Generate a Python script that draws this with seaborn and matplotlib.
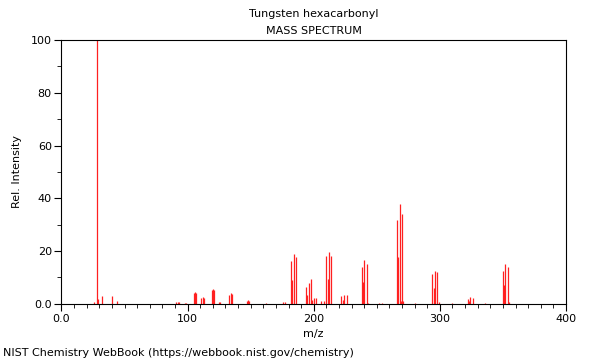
import matplotlib
matplotlib.use("Agg")
import matplotlib.pyplot as plt
from matplotlib.ticker import MultipleLocator, FixedLocator, FixedFormatter
import seaborn as sns
import pandas as pd

title_main = "Tungsten hexacarbonyl"
title_sub = "MASS SPECTRUM"
x_label = "m/z"
y_label = "Rel. Intensity"
footer = "NIST Chemistry WebBook (https://webbook.nist.gov/chemistry)"

mz = [26, 28, 29, 32, 40, 44,
      91, 92, 93, 98, 99,
      105, 106, 107, 111, 112, 113,
      119, 120, 121, 125, 126,
      133, 134, 135, 147, 148, 149,
      162, 176, 177,
      182, 183, 184, 186,
      194, 195, 196, 198, 199, 200, 202,
      206, 208,
      210, 211, 212, 214,
      222, 223, 224, 226,
      238, 239, 240, 242, 243,
      252, 254,
      266, 267, 268, 269, 270, 271,
      280,
      294, 295, 296, 298, 299,
      310,
      322, 323, 324, 326,
      336,
      350, 351, 352, 354, 355]
intensity = [0.8, 100, 1.9, 2.8, 2.8, 0.9,
             0.6, 0.7, 0.6, 0.5, 0.5,
             4.2, 4.5, 4.0, 2.4, 2.5, 2.3,
             5.3, 5.6, 5.2, 0.8, 0.8,
             3.5, 4.0, 3.6, 1.2, 1.4, 1.0,
             0.5, 0.8, 0.6,
             16.3, 9.0, 18.8, 17.9,
             6.4, 3.4, 8.0, 9.4, 1.5, 2.4, 2.4,
             1.1, 1.1,
             18.3, 9.5, 19.8, 18.3,
             2.8, 1.5, 3.4, 3.4,
             14.1, 8.2, 16.7, 15.2, 0.5,
             0.5, 0.5,
             31.8, 17.9, 37.7, 1.2, 34.0, 1.0,
             0.4,
             11.2, 6.0, 12.6, 12.0, 0.6,
             0.4,
             2.0, 1.0, 2.5, 2.2,
             0.4,
             12.5, 7.0, 15.0, 14.0, 0.8]

x_ticks = [0, 100, 200, 300, 400]
x_tick_labels = ["0.0", "100", "200", "300", "400"]
y_ticks = [0, 20, 40, 60, 80, 100]
y_tick_labels = ["0.0", "20", "40", "60", "80", "100"]

df = pd.DataFrame({"mz": mz, "intensity": intensity})

sns.set_theme(style="ticks")
plt.rcParams["font.family"] = ["DejaVu Sans"]
plt.rcParams["font.size"] = 8
plt.rcParams["text.color"] = "black"
plt.rcParams["axes.labelcolor"] = "black"
plt.rcParams["xtick.color"] = "black"
plt.rcParams["ytick.color"] = "black"

fig = plt.figure(figsize=(6, 3.6), dpi=100)
ax = fig.add_axes([0.1025, 0.156, 0.8408, 0.733])

ax.vlines(df["mz"], 0, df["intensity"], color="#ff2020", linewidth=0.9)

ax.set_xlim(0, 400)
ax.set_ylim(0, 100)
ax.xaxis.set_major_locator(FixedLocator(x_ticks))
ax.xaxis.set_major_formatter(FixedFormatter(x_tick_labels))
ax.xaxis.set_minor_locator(MultipleLocator(10))
ax.yaxis.set_major_locator(FixedLocator(y_ticks))
ax.yaxis.set_major_formatter(FixedFormatter(y_tick_labels))
ax.yaxis.set_minor_locator(MultipleLocator(10))
ax.tick_params(which="major", length=5, width=0.8, colors="black", labelsize=8, direction="out", pad=2)
ax.tick_params(which="minor", length=3, width=0.6, colors="black", direction="out")
for s in ax.spines.values():
    s.set_visible(True)
    s.set_color("black")
    s.set_linewidth(0.8)

ax.set_xlabel(x_label, fontsize=8, labelpad=4, color="black")
ax.set_ylabel(y_label, fontsize=8, labelpad=6, color="black")

fig.text(0.523, 0.962, title_main, ha="center", va="center", fontsize=8, color="black")
fig.text(0.523, 0.915, title_sub, ha="center", va="center", fontsize=8, color="black")
fig.text(0.005, 0.019, footer, ha="left", va="center", fontsize=8, color="black")

fig.savefig("out.png", dpi=100, facecolor="white")
